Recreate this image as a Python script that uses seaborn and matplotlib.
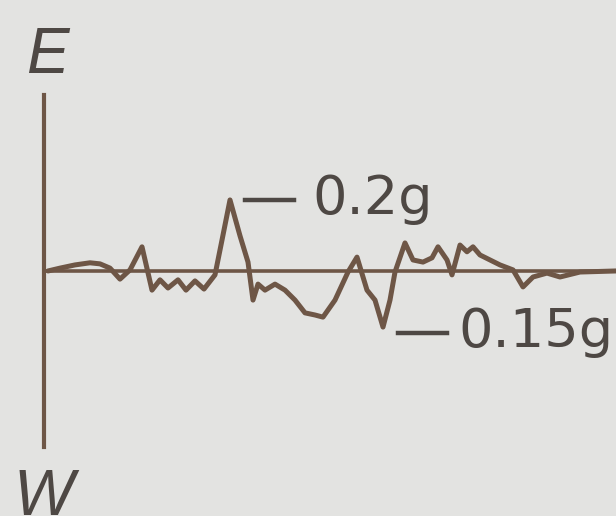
import matplotlib
matplotlib.use("Agg")
import matplotlib.pyplot as plt
import seaborn as sns
import pandas as pd

# time (s) and east-west ground acceleration (g)
time_s = [0.20, 0.80, 1.55, 2.30, 2.80, 3.30, 3.80, 4.30, 4.90, 5.40,
          5.80, 6.20, 6.70, 7.10, 7.55, 8.00, 8.55, 8.90, 9.30, 9.80,
          10.20, 10.45, 10.70, 11.05, 11.55, 12.05, 12.55, 13.05, 13.55, 13.95,
          14.55, 15.20, 15.65, 16.15, 16.55, 16.95, 17.30, 17.55, 18.05, 18.45,
          18.95, 19.40, 19.70, 20.15, 20.40, 20.80, 21.15, 21.45, 21.80, 22.30,
          22.80, 23.45, 23.95, 24.45, 25.15, 25.80, 26.80, 28.60]
accel_g = [0.000, 0.008, 0.017, 0.023, 0.020, 0.008, -0.023, 0.003, 0.068, -0.054,
           -0.025, -0.048, -0.025, -0.054, -0.028, -0.051, -0.011, 0.087, 0.200, 0.099,
           0.025, -0.082, -0.037, -0.054, -0.037, -0.054, -0.082, -0.118, -0.124, -0.130,
           -0.082, -0.003, 0.039, -0.054, -0.082, -0.158, -0.082, -0.003, 0.079, 0.031,
           0.025, 0.037, 0.068, 0.031, -0.011, 0.073, 0.054, 0.068, 0.045, 0.031,
           0.017, 0.003, -0.045, -0.017, -0.006, -0.017, -0.003, 0.000]

peak_labels = ["0.2g", "0.15g"]
dash_pos = [(10.05, 0.200), (17.70, -0.175)]
label_pos = [(13.40, 0.204), (20.70, -0.172)]

bg = "#e3e3e1"
trace = "#6e5646"
ink = "#4e4844"

df = pd.DataFrame({"t": time_s, "a": accel_g})

fig = plt.figure(figsize=(6.16, 5.16), dpi=100)
fig.patch.set_facecolor(bg)
ax = fig.add_axes([0, 0, 1, 1])
ax.set_facecolor(bg)

# zero line and E-W axis
ax.axhline(0, xmin=2.2 / 30.8, xmax=1, color=trace, lw=2.6)
ax.plot([0, 0], [-0.496, 0.496], color=trace, lw=3)

sns.lineplot(data=df, x="t", y="a", ax=ax, color=trace, lw=3.6,
             solid_joinstyle="round", solid_capstyle="round")

ax.text(0.15, 0.605, "E", fontsize=46, style="italic", color=ink,
        ha="center", va="center", family="Liberation Sans")
ax.text(0.0, -0.640, "W", fontsize=46, style="italic", color=ink,
        ha="center", va="center", family="Liberation Sans")
for lab, (dx, dy), (tx, ty) in zip(peak_labels, dash_pos, label_pos):
    ax.plot([dx, dx + 2.45], [dy, dy], color=ink, lw=3.2)
    ax.text(tx, ty, lab, fontsize=39, color=ink, ha="left", va="center",
            family="DejaVu Sans")

ax.set_xlim(-2.2, 28.6)
ax.set_ylim(-0.690, 0.763)
ax.axis("off")

fig.savefig("out.png", dpi=100, facecolor=bg)
